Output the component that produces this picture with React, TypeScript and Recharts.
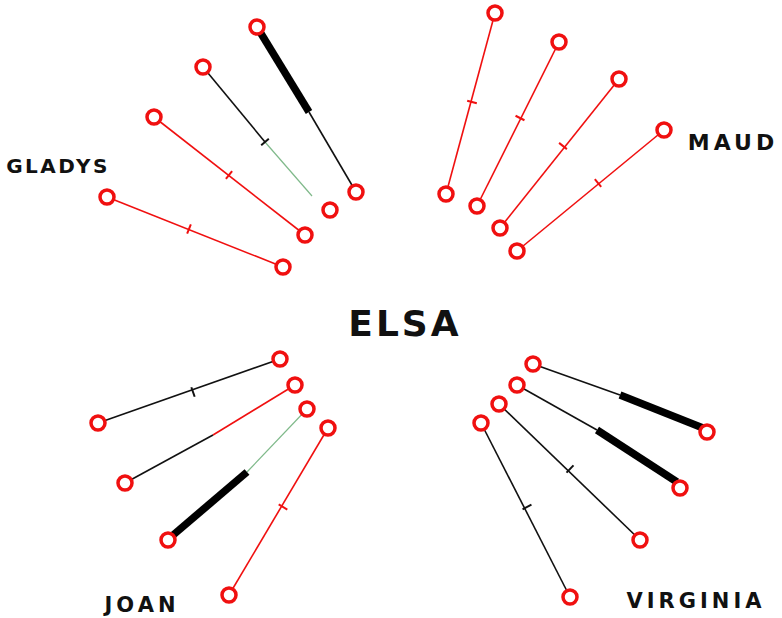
import { Scatter, ScatterChart, XAxis, YAxis } from "recharts";

type P = [number, number];
type Ink = "red" | "black" | "thick" | "green";

// hollow ends of every stroke (x right, y down)
const gladysEnds: P[] = [[257, 27], [356, 192], [203, 67], [330, 210], [154, 117], [305, 235], [107, 197], [283, 267]];
const maudEnds: P[] = [[495, 13], [446, 194], [559, 42], [477, 206], [619, 79], [500, 228], [664, 130], [517, 251]];
const joanEnds: P[] = [[280, 359], [98, 423], [295, 385], [125, 483], [307, 409], [168, 540], [328, 428], [229, 595]];
const virginiaEnds: P[] = [[533, 364], [707, 432], [517, 385], [680, 488], [499, 404], [640, 540], [481, 423], [570, 597]];

// coloured runs along each stroke
const runs: { a: P; b: P; ink: Ink }[] = [
  { a: [257, 27], b: [309, 112], ink: "thick" },
  { a: [309, 112], b: [356, 192], ink: "black" },
  { a: [203, 67], b: [265, 142], ink: "black" },
  { a: [265, 142], b: [312, 196], ink: "green" },
  { a: [154, 117], b: [305, 235], ink: "red" },
  { a: [107, 197], b: [283, 267], ink: "red" },
  { a: [495, 13], b: [446, 194], ink: "red" },
  { a: [559, 42], b: [477, 206], ink: "red" },
  { a: [619, 79], b: [500, 228], ink: "red" },
  { a: [664, 130], b: [517, 251], ink: "red" },
  { a: [280, 359], b: [98, 423], ink: "black" },
  { a: [295, 385], b: [213, 435], ink: "red" },
  { a: [213, 435], b: [125, 483], ink: "black" },
  { a: [307, 409], b: [247, 472], ink: "green" },
  { a: [247, 472], b: [172, 536], ink: "thick" },
  { a: [328, 428], b: [229, 595], ink: "red" },
  { a: [533, 364], b: [620, 395], ink: "black" },
  { a: [620, 395], b: [703, 428], ink: "thick" },
  { a: [517, 385], b: [597, 430], ink: "black" },
  { a: [597, 430], b: [677, 482], ink: "thick" },
  { a: [499, 404], b: [640, 540], ink: "black" },
  { a: [481, 423], b: [570, 597], ink: "black" },
];

// small cross marks, with the stroke they sit on
const ticks: { at: P; a: P; b: P; ink: Ink }[] = [
  { at: [265, 142], a: [203, 67], b: [312, 196], ink: "black" },
  { at: [229, 175], a: [154, 117], b: [305, 235], ink: "red" },
  { at: [189, 229], a: [107, 197], b: [283, 267], ink: "red" },
  { at: [472, 102], a: [495, 13], b: [446, 194], ink: "red" },
  { at: [520, 118], a: [559, 42], b: [477, 206], ink: "red" },
  { at: [563, 146], a: [619, 79], b: [500, 228], ink: "red" },
  { at: [598, 183], a: [664, 130], b: [517, 251], ink: "red" },
  { at: [193, 392], a: [280, 359], b: [98, 423], ink: "black" },
  { at: [283, 507], a: [328, 428], b: [229, 595], ink: "red" },
  { at: [570, 469], a: [499, 404], b: [640, 540], ink: "black" },
  { at: [527, 507], a: [481, 423], b: [570, 597], ink: "black" },
];

const names = ["GLADYS", "MAUD", "ELSA", "JOAN", "VIRGINIA"];
const namePos: P[] = [[58, 166], [733, 142], [405, 323], [142, 605], [696, 601]];

const RED = "#f01010";
const inkStyle: Record<Ink, { stroke: string; strokeWidth: number }> = {
  red: { stroke: RED, strokeWidth: 1.6 },
  black: { stroke: "#111", strokeWidth: 1.6 },
  thick: { stroke: "#000", strokeWidth: 7.5 },
  green: { stroke: "#7fb98a", strokeWidth: 1.2 },
};

// lettering size / spacing per label
const nameFont: Record<string, [number, number]> = {
  GLADYS: [20, 2.5],
  MAUD: [22, 4],
  ELSA: [36, 3],
  JOAN: [21, 4],
  VIRGINIA: [21, 4],
};

const allEnds = [...gladysEnds, ...maudEnds, ...joanEnds, ...virginiaEnds].map(([x, y]) => ({ x, y }));

const Empty = () => <g />;

const Ring = (props: any) => (
  <circle cx={props.cx} cy={props.cy} r={7} fill="#fff" stroke={RED} strokeWidth={3.5} />
);

const Tick = (props: any) => {
  const { ang, ink } = props.payload;
  const nx = -Math.sin(ang) * 5;
  const ny = Math.cos(ang) * 5;
  return (
    <line
      x1={props.cx - nx}
      y1={props.cy - ny}
      x2={props.cx + nx}
      y2={props.cy + ny}
      stroke={inkStyle[ink as Ink].stroke}
      strokeWidth={2}
    />
  );
};

const Name = (props: any) => {
  const [size, gap] = nameFont[props.payload.name];
  return (
    <text
      x={props.cx}
      y={props.cy}
      textAnchor="middle"
      dominantBaseline="central"
      fontFamily="'DejaVu Sans', sans-serif"
      fontWeight="bold"
      fontSize={size}
      letterSpacing={gap}
      fill="#111"
    >
      {props.payload.name}
    </text>
  );
};

export default function App() {
  const tickData = ticks.map((t) => ({
    x: t.at[0],
    y: t.at[1],
    ang: Math.atan2(t.b[1] - t.a[1], t.b[0] - t.a[0]),
    ink: t.ink,
  }));
  const nameData = names.map((name, i) => ({ x: namePos[i][0], y: namePos[i][1], name }));

  return (
    <div style={{ position: "absolute", left: 0, top: 0, background: "#fff" }}>
      <ScatterChart width={782} height={618} margin={{ top: 0, right: 0, bottom: 0, left: 0 }}>
        <XAxis type="number" dataKey="x" domain={[0, 782]} hide allowDataOverflow />
        <YAxis type="number" dataKey="y" domain={[0, 618]} reversed hide allowDataOverflow />
        {runs.map((r, i) => (
          <Scatter
            key={`run-${i}`}
            data={[
              { x: r.a[0], y: r.a[1] },
              { x: r.b[0], y: r.b[1] },
            ]}
            line={{ ...inkStyle[r.ink], strokeLinecap: "butt" }}
            lineType="joint"
            shape={Empty}
            isAnimationActive={false}
          />
        ))}
        <Scatter data={tickData} shape={Tick} isAnimationActive={false} />
        <Scatter data={allEnds} shape={Ring} isAnimationActive={false} />
        <Scatter data={nameData} shape={Name} isAnimationActive={false} />
      </ScatterChart>
    </div>
  );
}
